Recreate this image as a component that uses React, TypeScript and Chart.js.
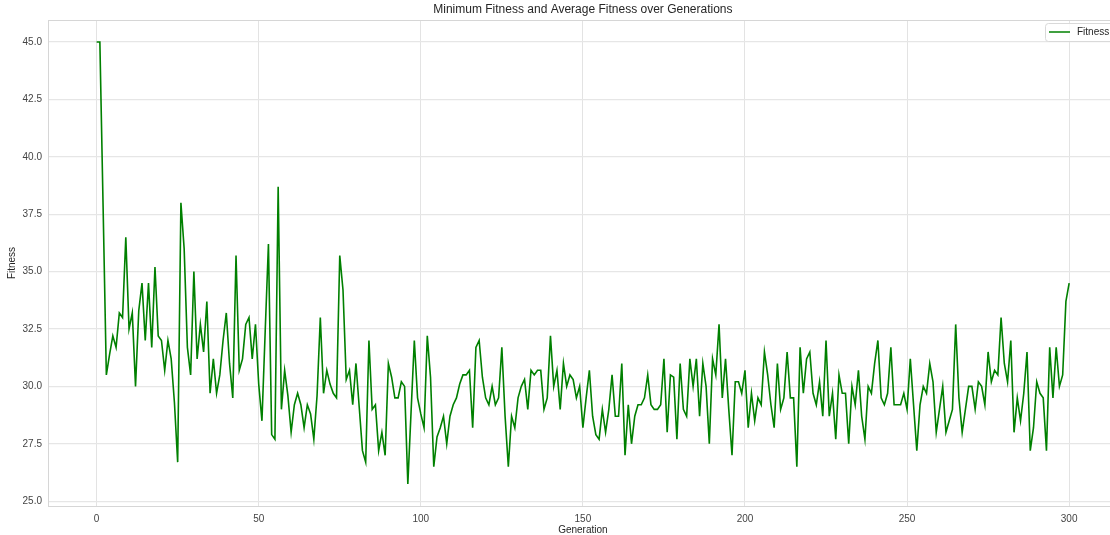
import React, { useEffect, useRef } from "react";
import { Chart, registerables } from "chart.js";

Chart.register(...registerables);

const chartTitle = "Minimum Fitness and Average Fitness over Generations";
const xAxisTitle = "Generation";
const yAxisTitle = "Fitness";
const seriesLabel = "Fitness";

// Fitness value per generation (generation = index, 0..300)
const fitness: number[] = [
  45.0, 45.0, 37.8, 30.5, 31.4, 32.2, 31.7, 33.2, 33.0, 36.5,
  32.5, 33.2, 30.0, 33.3, 34.5, 32.0, 34.5, 31.7, 35.2, 32.2,
  32.0, 30.7, 32.0, 31.2, 29.3, 26.7, 38.0, 36.0, 31.7, 30.5,
  35.0, 31.2, 32.7, 31.5, 33.7, 29.7, 31.2, 29.7, 30.5, 32.0,
  33.2, 31.0, 29.5, 35.7, 30.7, 31.2, 32.7, 33.0, 31.2, 32.7,
  30.1, 28.5, 32.4, 36.2, 27.9, 27.7, 38.7, 29.0, 30.7, 29.6,
  28.0, 29.2, 29.7, 29.2, 28.2, 29.2, 28.8, 27.7, 29.6, 33.0,
  29.7, 30.7, 30.1, 29.7, 29.5, 35.7, 34.2, 30.3, 30.7, 29.2,
  31.0, 29.1, 27.2, 26.7, 32.0, 29.0, 29.2, 27.2, 28.0, 27.0,
  31.0, 30.4, 29.5, 29.5, 30.2, 30.0, 25.75, 28.9, 32.0, 29.5,
  28.8, 28.2, 32.2, 30.4, 26.5, 27.8, 28.2, 28.7, 27.5, 28.7,
  29.2, 29.5, 30.1, 30.5, 30.5, 30.7, 28.2, 31.7, 32.0, 30.4,
  29.5, 29.2, 30.0, 29.2, 29.5, 31.7, 28.7, 26.5, 28.7, 28.2,
  29.5, 30.0, 30.3, 29.0, 30.7, 30.5, 30.7, 30.7, 29.0, 29.5,
  32.2, 30.0, 30.7, 29.0, 31.0, 30.0, 30.5, 30.3, 29.5, 30.0,
  28.2, 29.5, 30.7, 28.7, 27.9, 27.7, 29.0, 28.0, 29.0, 30.5,
  28.7, 28.7, 31.0, 27.0, 29.2, 27.5, 28.7, 29.2, 29.2, 29.5,
  30.5, 29.2, 29.0, 29.0, 29.2, 31.2, 28.0, 30.5, 30.4, 27.7,
  31.0, 29.0, 28.7, 31.2, 30.0, 31.2, 28.7, 31.0, 30.0, 27.5,
  31.2, 30.5, 32.7, 29.5, 31.2, 29.0, 27.0, 30.2, 30.2, 29.7,
  30.7, 28.2, 29.7, 28.5, 29.5, 29.2, 31.5, 30.5, 29.2, 28.2,
  31.0, 29.0, 29.5, 31.5, 29.5, 29.5, 26.5, 31.7, 29.7, 31.2,
  31.5, 29.7, 29.2, 30.2, 28.7, 32.0, 28.7, 29.7, 27.7, 30.5,
  29.7, 29.7, 27.5, 30.0, 29.2, 30.7, 28.7, 27.7, 30.0, 29.7,
  31.0, 32.0, 29.5, 29.2, 29.7, 31.7, 29.2, 29.2, 29.2, 29.7,
  29.0, 31.2, 29.2, 27.2, 29.2, 30.0, 29.7, 31.0, 30.2, 28.0,
  29.0, 30.0, 28.0, 28.5, 29.0, 32.7, 29.5, 28.0, 29.0, 30.0,
  30.0, 29.0, 30.2, 30.0, 29.2, 31.5, 30.2, 30.7, 30.5, 33.0,
  31.0, 30.2, 32.0, 28.0, 29.5, 28.5, 29.7, 31.5, 27.2, 28.2,
  30.2, 29.7, 29.5, 27.2, 31.7, 29.5, 31.7, 30.0, 30.5, 33.7,
  34.5,
];

const xTickStep = 50;
const yTickStep = 2.5;

const FONT = "'Liberation Sans', Arial, sans-serif";

const overlayPlugin = {
  id: "overlay",
  beforeDraw(chart: any) {
    const { ctx } = chart;
    ctx.save();
    ctx.fillStyle = "#ffffff";
    ctx.fillRect(0, 0, chart.width, chart.height);
    ctx.restore();
  },
  afterDraw(chart: any) {
    const { ctx, chartArea, scales } = chart;
    const xs = scales.x;
    ctx.save();
    // frame
    ctx.strokeStyle = "#d6d6d6";
    ctx.lineWidth = 1;
    ctx.strokeRect(chartArea.left + 0.5, chartArea.top + 0.5, chartArea.right - chartArea.left + 10, chartArea.bottom - chartArea.top);
    // title
    const cx = xs.getPixelForValue(150);
    ctx.fillStyle = "#262626";
    ctx.font = `12px ${FONT}`;
    ctx.textAlign = "center";
    ctx.textBaseline = "middle";
    ctx.fillText(chartTitle, cx, 10);
    // x title
    ctx.font = `10px ${FONT}`;
    ctx.fillText(xAxisTitle, cx, 530);
    // legend
    const lx = 1045;
    const ly = 23;
    const lw = 80;
    const lh = 18;
    ctx.globalAlpha = 0.85;
    ctx.fillStyle = "#ffffff";
    ctx.beginPath();
    ctx.roundRect(lx + 0.5, ly + 0.5, lw, lh, 3);
    ctx.fill();
    ctx.globalAlpha = 1;
    ctx.strokeStyle = "#d9d9d9";
    ctx.stroke();
    ctx.strokeStyle = "#008000";
    ctx.lineWidth = 1.5;
    ctx.beginPath();
    ctx.moveTo(lx + 4, ly + 9);
    ctx.lineTo(lx + 25, ly + 9);
    ctx.stroke();
    ctx.fillStyle = "#262626";
    ctx.textAlign = "left";
    ctx.font = `10px ${FONT}`;
    ctx.fillText(seriesLabel, lx + 32, ly + 9.5);
    ctx.restore();
  },
};

export default function App() {
  const canvasRef = useRef<HTMLCanvasElement | null>(null);

  useEffect(() => {
    if (!canvasRef.current) return;
    const points = fitness.map((v, i) => ({ x: i, y: v }));
    const chart = new Chart(canvasRef.current, {
      type: "line",
      data: {
        datasets: [
          {
            label: seriesLabel,
            data: points,
            borderColor: "#008000",
            backgroundColor: "#008000",
            borderWidth: 1.6,
            pointRadius: 0,
            tension: 0,
            fill: false,
          },
        ],
      },
      options: {
        animation: false,
        responsive: false,
        devicePixelRatio: 1,
        layout: { padding: { top: 20, left: 0, right: 0, bottom: 0 } },
        plugins: {
          legend: { display: false },
          title: { display: false },
          tooltip: { enabled: false },
        },
        scales: {
          x: {
            type: "linear",
            min: -15,
            max: 312.6,
            afterFit: (s: any) => {
              s.height = 29;
            },
            grid: { color: "#e3e3e3", lineWidth: 1, drawTicks: false },
            border: { display: false },
            ticks: {
              stepSize: xTickStep,
              includeBounds: false,
              padding: 7,
              color: "#444444",
              font: { family: FONT, size: 10 },
              maxRotation: 0,
              callback: (v: any) => String(v),
            },
          },
          y: {
            type: "linear",
            min: 24.79,
            max: 45.96,
            afterFit: (s: any) => {
              s.width = 48;
            },
            grid: { color: "#e6e6e6", lineWidth: 1.3, drawTicks: false },
            border: { display: false },
            title: {
              display: true,
              text: yAxisTitle,
              color: "#262626",
              font: { family: FONT, size: 10 },
              padding: { top: 6, bottom: 0 },
            },
            ticks: {
              stepSize: yTickStep,
              includeBounds: false,
              padding: 6,
              color: "#444444",
              font: { family: FONT, size: 10 },
              callback: (v: any) => Number(v).toFixed(1),
            },
          },
        },
      },
      plugins: [overlayPlugin],
    });
    return () => chart.destroy();
  }, []);

  return (
    <div style={{ position: "fixed", left: 0, top: 0, width: 1110, height: 535, background: "#fff" }}>
      <canvas ref={canvasRef} width={1110} height={535} />
    </div>
  );
}
